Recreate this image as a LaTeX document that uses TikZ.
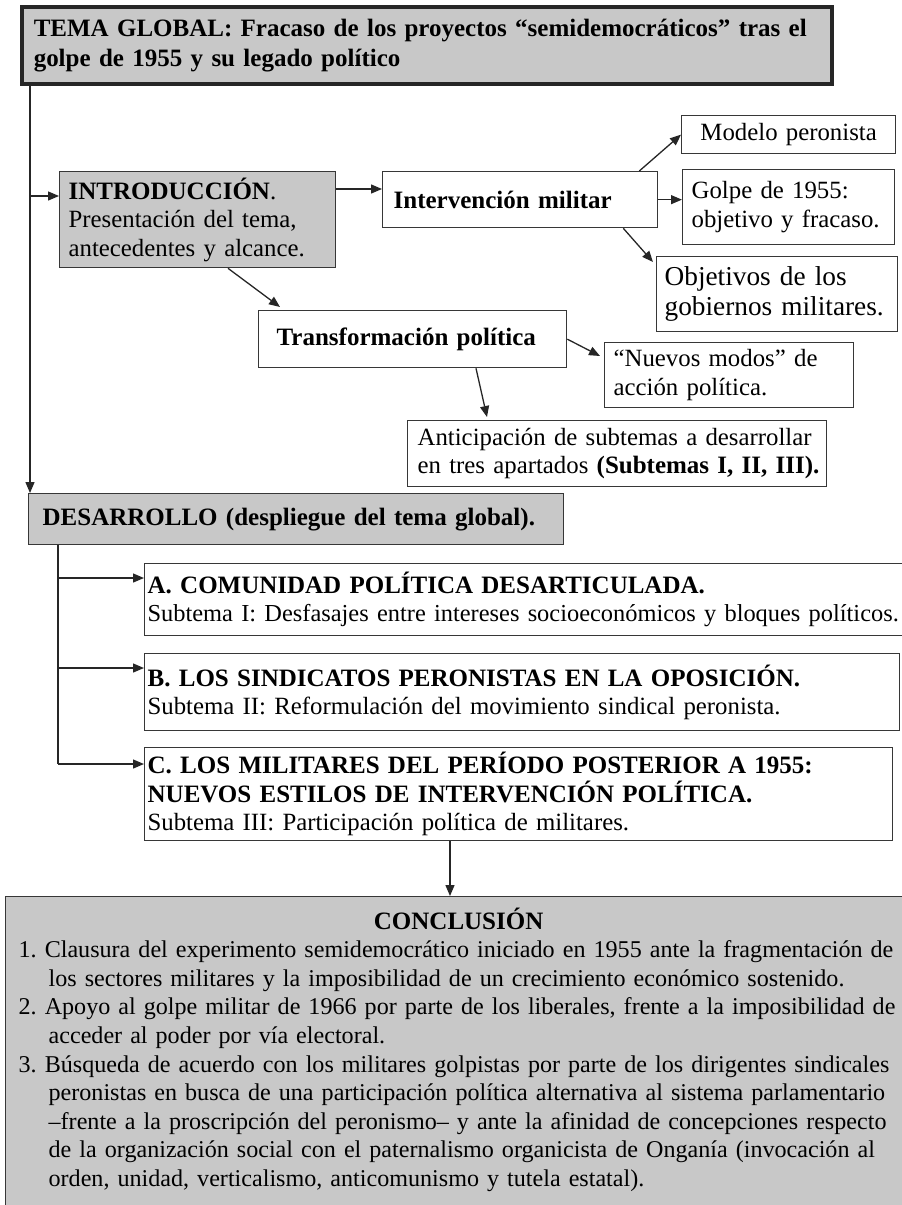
\documentclass[tikz,border=0pt]{standalone}
\usepackage{fontspec}
\setmainfont{Liberation Serif}
\usepackage{tikz}
\usetikzlibrary{arrows.meta,calc,positioning}
\definecolor{boxgray}{RGB}{200,200,200}
\definecolor{edge}{RGB}{55,55,55}
\newcommand{\txtsz}{\fontsize{24.8}{28.4}\selectfont}
\newcommand{\boldsz}{\fontsize{25}{28.4}\selectfont\bfseries}
\tikzset{
  box/.style={draw=edge, line width=1.3pt, fill=white, anchor=north west, align=left, inner ysep=3pt, font=\txtsz\frenchspacing},
  graybox/.style={box, fill=boxgray},
  arr/.style={draw=black!85, line width=1.3pt, -{Triangle[length=11pt,width=9pt]}},
  link/.style={draw=black!85, line width=1.3pt},
}

\begin{document}
\begin{tikzpicture}[x=1pt, y=-1pt]
    \useasboundingbox (0,0) rectangle (902,1205);
    \clip (0,0) rectangle (902,1205);

    % tema global
    \node[graybox, line width=3.5pt, draw=black!85, font=\fontsize{25}{30}\selectfont\bfseries\frenchspacing, inner xsep=12pt, text width=786pt, minimum height=77pt] (tema) at (20,5) {\mbox{TEMA GLOBAL: Fracaso de los proyectos “semidemocráticos” tras el}\\\mbox{golpe de 1955 y su legado político}};

    % introduccion
    \node[graybox, inner xsep=9pt, text width=258pt, minimum height=96pt] (intro) at (59,171) {\mbox{{\boldsz INTRODUCCIÓN}.}\\\mbox{Presentación del tema,}\\\mbox{antecedentes y alcance.}};
    \node[box, font=\boldsz, inner xsep=11pt, text width=253pt, minimum height=56pt] (interv) at (382,171) {\mbox{Intervención militar}};
    \node[box, align=center, inner xsep=9pt, text width=196pt, minimum height=38pt] (modelo) at (681,115) {\mbox{Modelo peronista}};
    \node[box, inner xsep=9pt, text width=194pt, minimum height=75pt] (golpe) at (682,169) {\mbox{Golpe de 1955:}\\\mbox{objetivo y fracaso.}};
    \node[box, font=\fontsize{27.3}{30}\selectfont, inner xsep=8pt, text width=225pt, minimum height=75pt] (objet) at (656,256) {\mbox{Objetivos de los}\\\mbox{gobiernos militares.}};
    \node[box, font=\boldsz, inner xsep=18pt, text width=272pt, minimum height=57pt] (transf) at (258,310) {\mbox{Transformación política}};
    \node[box, inner xsep=9pt, text width=231pt, minimum height=65pt] (nuevos) at (604,342) {\mbox{“Nuevos modos” de}\\\mbox{acción política.}};
    \node[box, inner xsep=10pt, text width=399pt, minimum height=66pt] (antic) at (407,420) {\mbox{Anticipación de subtemas a desarrollar}\\\mbox{en tres apartados {\boldsz (Subtemas I, II, III).}}};

    % desarrollo
    \node[graybox, font=\boldsz, inner xsep=14pt, text width=507pt, minimum height=51pt] (desa) at (28,493) {\mbox{DESARROLLO (despliegue del tema global).}};
    \node[box, inner xsep=3pt, text width=764pt, minimum height=72pt] (subA) at (144,563) {\mbox{\boldsz A. COMUNIDAD POLÍTICA DESARTICULADA.}\\\mbox{\fontsize{24.4}{28.4}\selectfont Subtema I: Desfasajes entre intereses socioeconómicos y bloques políticos.}};
    \node[box, inner xsep=3pt, text width=749pt, minimum height=77pt] (subB) at (144,653) {\mbox{\boldsz B. LOS SINDICATOS PERONISTAS EN LA OPOSICIÓN.}\\\mbox{Subtema II: Reformulación del movimiento sindical peronista.}};
    \node[box, inner xsep=3pt, text width=742pt, minimum height=93pt] (subC) at (144,747) {\mbox{\boldsz C. LOS MILITARES DEL PERÍODO POSTERIOR A 1955:}\\\mbox{\boldsz NUEVOS ESTILOS DE INTERVENCIÓN POLÍTICA.}\\\mbox{Subtema III: Participación política de militares.}};

    % conclusion
    \node[graybox, font=\fontsize{24.1}{28.6}\selectfont\frenchspacing, inner xsep=13pt, inner ysep=11pt, text width=890pt] (concl) at (5,896) {\makebox[880pt]{\boldsz CONCLUSIÓN}\\
      \mbox{1. Clausura del experimento semidemocrático iniciado en 1955 ante la fragmentación de}\\
      \mbox{\hspace*{30pt}los sectores militares y la imposibilidad de un crecimiento económico sostenido.}\\
      \mbox{2. Apoyo al golpe militar de 1966 por parte de los liberales, frente a la imposibilidad de}\\
      \mbox{\hspace*{30pt}acceder al poder por vía electoral.}\\
      \mbox{3. Búsqueda de acuerdo con los militares golpistas por parte de los dirigentes sindicales}\\
      \mbox{\hspace*{30pt}peronistas en busca de una participación política alternativa al sistema parlamentario}\\
      \mbox{\hspace*{30pt}–frente a la proscripción del peronismo– y ante la afinidad de concepciones respecto}\\
      \mbox{\hspace*{30pt}de la organización social con el paternalismo organicista de Onganía (invocación al}\\
      \mbox{\hspace*{30pt}orden, unidad, verticalismo, anticomunismo y tutela estatal).}\rule[-30pt]{0pt}{0pt}};

    % connectors
    \coordinate (spine) at (30,0);
    \coordinate (dspine) at (58,0);
    \coordinate (cdown) at (450,0);
    \coordinate (introin) at ($(intro.north west)+(0,25)$);
    \coordinate (introout) at ($(intro.north east)+(0,18)$);
    \coordinate (ain) at ($(subA.north west)+(0,15)$);
    \coordinate (bin) at ($(subB.north west)+(0,15)$);
    \coordinate (cin) at ($(subC.north west)+(0,17)$);

    \draw[arr] (tema.south -| spine) -- (desa.north -| spine);
    \draw[arr] (spine |- introin) -- (introin);
    \draw[arr] (introout) -- (introout -| interv.west);
    \draw[arr] ($(interv.north east)+(-19,0)$) -- (modelo.west);
    \draw[arr] (interv.east) -- (interv.east -| golpe.west);
    \draw[arr] ($(interv.south east)+(-35,0)$) -- ($(objet.north west)+(-3,6)$);
    \draw[arr] ($(intro.south west)+(169,0)$) -- ($(transf.north west)+(22,-3)$);
    \draw[arr] (transf.east) -- ($(nuevos.north west)+(-4,14)$);
    \draw[arr] ($(transf.south west)+(218,0)$) -- ($(antic.north west)+(80,-3)$);

    \draw[link] (desa.south -| dspine) -- (dspine |- cin);
    \foreach \s in {ain,bin,cin}
        \draw[arr] (dspine |- \s) -- (\s);
    \draw[arr] (subC.south -| cdown) -- (concl.north -| cdown);
\end{tikzpicture}
\end{document}
